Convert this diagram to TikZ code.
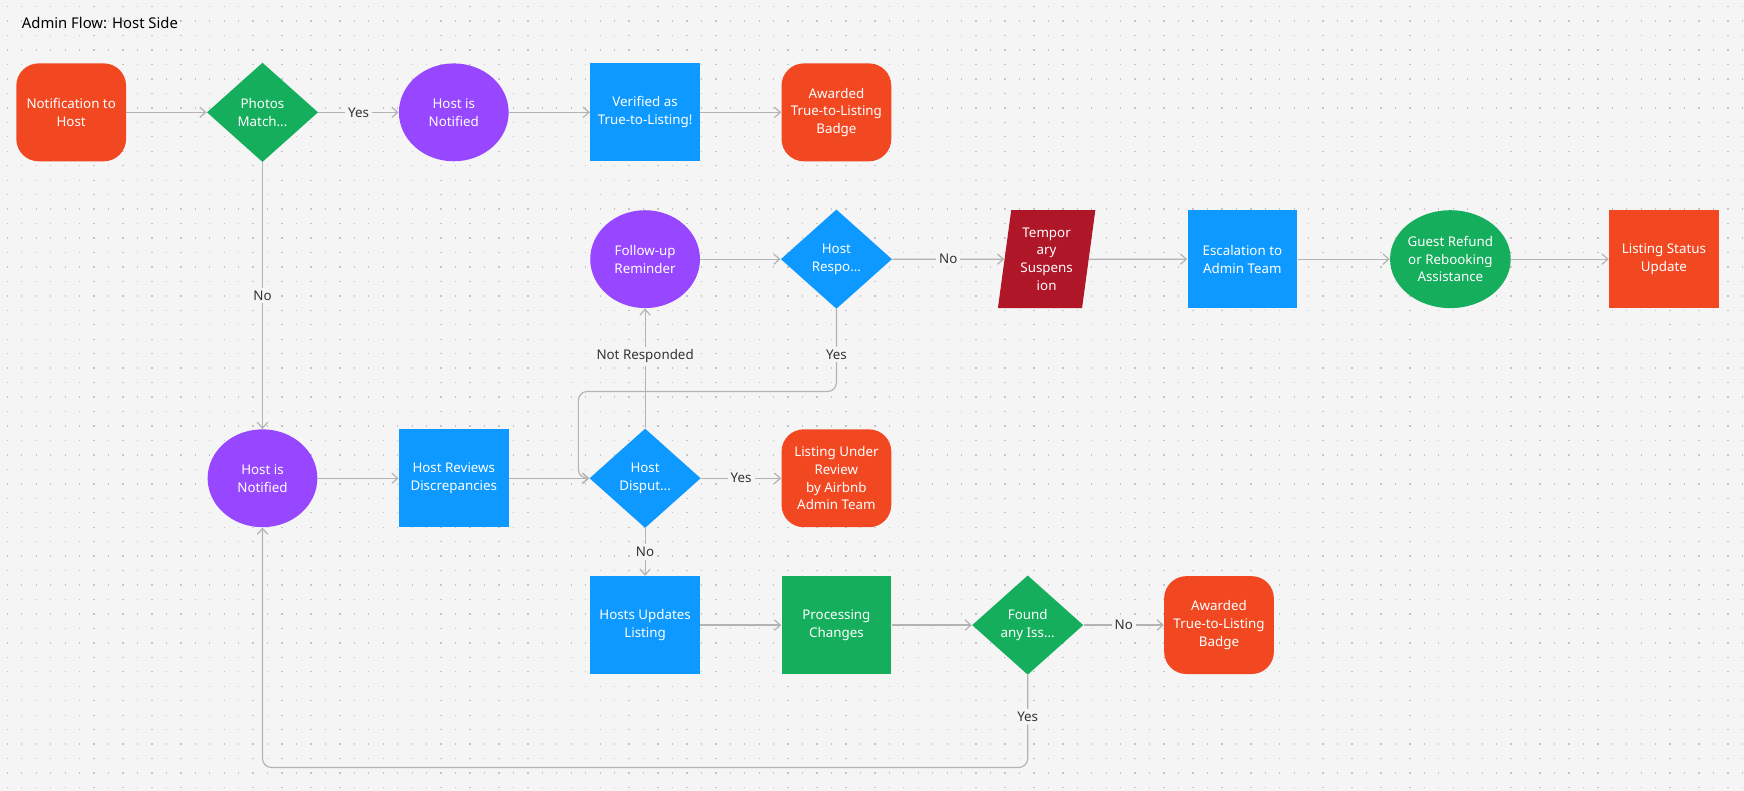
\documentclass[tikz,border=0pt]{standalone}
\usepackage{fontspec}
\setmainfont{Noto Sans}
\usetikzlibrary{shapes.geometric,arrows.meta}
\definecolor{bgc}{HTML}{F5F5F5}
\definecolor{dotc}{HTML}{C4C4C4}
\definecolor{lnc}{HTML}{B3B3B3}
\definecolor{orng}{HTML}{F24822}
\definecolor{grn}{HTML}{14AE5C}
\definecolor{prpl}{HTML}{9747FF}
\definecolor{blu}{HTML}{0D99FF}
\definecolor{dred}{HTML}{AF1628}
\definecolor{txc}{HTML}{333333}
\tikzset{
  base/.style={text=white,font=\fontsize{9}{12}\selectfont,align=center,draw=none,inner sep=0pt},
  term/.style={base,fill=orng,rectangle,rounded corners=15pt,minimum width=74pt,minimum height=66pt},
  proc/.style={base,fill=blu,rectangle,minimum width=74pt,minimum height=66pt},
  dec/.style={base,diamond,minimum width=75pt,minimum height=67pt,inner sep=-3pt},
  oval/.style={base,ellipse,fill=prpl,minimum width=74pt,minimum height=66pt},
  link/.style={draw=lnc,line width=0.8pt,-{Straight Barb[length=4pt,width=7pt]}},
  lbl/.style={fill=bgc,text=txc,font=\fontsize{9}{11}\selectfont,inner sep=2pt}
}
\begin{document}
\begin{tikzpicture}[x=0.75pt,y=-0.75pt]
  \fill[bgc] (0,0) rectangle (1568,711);
  \useasboundingbox (0,0) rectangle (1568,711);
  % dotted background
  \foreach \yy in {6,19,...,711}
    \draw[dotc,line width=0.9pt,dash pattern=on 0.9pt off 8.85pt] (6,\yy) -- (1568,\yy);
  \node[anchor=west,text=black,font=\fontsize{10}{12}\selectfont] (title) at (15,21) {Admin Flow: Host Side};

  % top row
  \node[term] (notify) at (64,101) {Notification to\\Host};
  \node[dec,fill=grn] (photos) at (236,101) {Photos\\Match...};
  \node[oval] (hostA) at (408,101) {Host is\\Notified};
  \node[proc] (verified) at (580,101) {Verified as\\True-to-Listing!};
  \node[term] (badgeA) at (752,101) {Awarded\\True-to-Listing\\Badge};

  % second row
  \node[oval] (remind) at (580,233) {Follow-up\\Reminder};
  \node[dec,fill=blu] (respo) at (752,233) {Host\\Respo...};
  \node[base,trapezium,trapezium left angle=80,trapezium right angle=100,fill=dred,
        minimum width=66pt,minimum height=66pt,trapezium stretches=true,text width=40pt] (susp) at (941,233) {Tempor\\ary\\Suspens\\ion};
  \node[proc] (escal) at (1117,233) {Escalation to\\Admin Team};
  \node[oval,fill=grn] (refund) at (1304,233) {Guest Refund\\or Rebooking\\Assistance};
  \node[proc,fill=orng] (status) at (1496,233) {Listing Status\\Update};

  % third row
  \node[oval] (hostB) at (236,430) {Host is\\Notified};
  \node[proc] (reviews) at (408,430) {Host Reviews\\Discrepancies};
  \node[dec,fill=blu] (disput) at (580,430) {Host\\Disput...};
  \node[term] (under) at (752,430) {Listing Under\\Review\\by Airbnb\\Admin Team};

  % bottom row
  \node[proc] (updates) at (580,562) {Hosts Updates\\Listing};
  \node[proc,fill=grn] (process) at (752,562) {Processing\\Changes};
  \node[dec,fill=grn] (found) at (924,562) {Found\\any Iss...};
  \node[term] (badgeB) at (1096,562) {Awarded\\True-to-Listing\\Badge};

  % connectors
  \draw[link] (notify) -- (photos);
  \draw[link] (photos) -- node[lbl]{Yes} (hostA);
  \draw[link] (hostA) -- (verified);
  \draw[link] (verified) -- (badgeA);
  \draw[link] (photos) -- node[lbl,pos=0.5]{No} (hostB);

  \draw[link] (remind) -- (respo);
  \draw[link] (respo) -- node[lbl]{No} (susp);
  \draw[link] (susp) -- (escal);
  \draw[link] (escal) -- (refund);
  \draw[link] (refund) -- (status);
  \draw[link,rounded corners=6pt] (respo.south) -- node[lbl,pos=0.55]{Yes} (752,352) -- (580-60,352) -- (580-60,430) -- (disput.west);
  \draw[link] (disput) -- node[lbl,pos=0.6]{Not Responded} (remind);

  \draw[link] (hostB) -- (reviews);
  \draw[link] (reviews) -- (disput);
  \draw[link] (disput) -- node[lbl]{Yes} (under);
  \draw[link] (disput) -- node[lbl]{No} (updates);

  \draw[link] (updates) -- (process);
  \draw[link] (process) -- (found);
  \draw[link] (found) -- node[lbl]{No} (badgeB);
  \draw[link,rounded corners=6pt] (found.south) -- node[lbl,pos=0.45]{Yes} (924,690) -- (236,690) -- (hostB.south);
\end{tikzpicture}
\end{document}
